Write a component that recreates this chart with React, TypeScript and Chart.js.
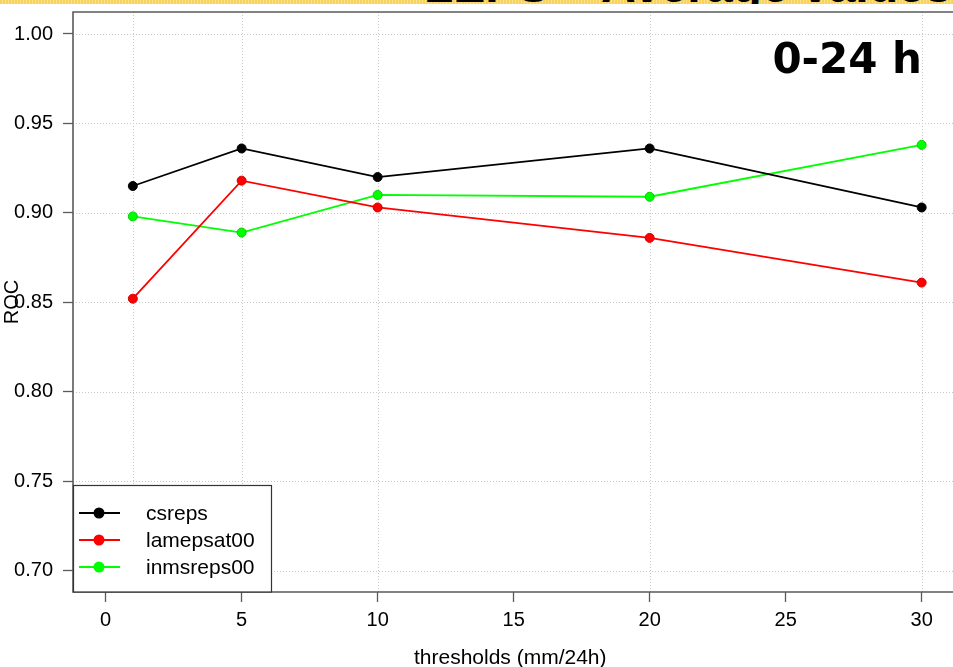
import React, { useEffect, useRef } from "react";
import { Chart, registerables } from "chart.js";

Chart.register(...registerables);

// ---- data ----
const thresholds = [1, 5, 10, 20, 30];
const csreps = [0.915, 0.936, 0.92, 0.936, 0.903];
const lamepsat00 = [0.852, 0.918, 0.903, 0.886, 0.861];
const inmsreps00 = [0.898, 0.889, 0.91, 0.909, 0.938];
const seriesNames = ["csreps", "lamepsat00", "inmsreps00"];
const xTicks = [0, 5, 10, 15, 20, 25, 30];
const yTicks = [0.7, 0.75, 0.8, 0.85, 0.9, 0.95, 1.0];
const panelLabel = "0-24 h";
const xTitle = "thresholds (mm/24h)";
const yTitle = "ROC";
const bannerText = "LEPS \u2013 Average values";

const colors = ["#000000", "#ff0000", "#00ff00"];
const borders = ["#000000", "#d00000", "#00d000"];

const FONT = "'Liberation Sans', Arial, Helvetica, sans-serif";

const boxPlugin = {
  id: "rbox",
  beforeDatasetsDraw(chart: any) {
    const { ctx, chartArea, scales } = chart;
    const { left, top, bottom } = chartArea;
    const right = chart.width;
    ctx.save();
    ctx.strokeStyle = "#c8c8c8";
    ctx.lineWidth = 1;
    ctx.setLineDash([1, 2]);
    yTicks.forEach((v) => {
      const y = Math.round(scales.y.getPixelForValue(v)) + 0.5;
      ctx.beginPath();
      ctx.moveTo(left, y);
      ctx.lineTo(right, y);
      ctx.stroke();
    });
    thresholds.forEach((v) => {
      const x = Math.round(scales.x.getPixelForValue(v)) + 0.5;
      ctx.beginPath();
      ctx.moveTo(x, top);
      ctx.lineTo(x, bottom);
      ctx.stroke();
    });
    ctx.restore();
  },
  afterDatasetsDraw(chart: any) {
    const { ctx, chartArea } = chart;
    const { left, top, bottom } = chartArea;
    const right = chart.width;
    ctx.save();
    // plot box
    ctx.strokeStyle = "#5a5a5a";
    ctx.lineWidth = 1.6;
    ctx.beginPath();
    ctx.moveTo(right + 2, top);
    ctx.lineTo(left, top);
    ctx.lineTo(left, bottom);
    ctx.lineTo(right + 2, bottom);
    ctx.stroke();

    // legend box
    const lx = left, ly = bottom - 107, lw = 198, lh = 107;
    ctx.fillStyle = "#ffffff";
    ctx.fillRect(lx, ly, lw, lh);
    ctx.strokeStyle = "#333333";
    ctx.lineWidth = 1.2;
    ctx.strokeRect(lx + 0.5, ly + 0.5, lw, lh - 0.5);
    const rowY = [28, 55, 82];
    chart.data.datasets.forEach((ds: any, i: number) => {
      const y = ly + rowY[i];
      ctx.strokeStyle = ds.borderColor;
      ctx.lineWidth = 2;
      ctx.beginPath();
      ctx.moveTo(lx + 6, y);
      ctx.lineTo(lx + 47, y);
      ctx.stroke();
      ctx.fillStyle = ds.borderColor;
      ctx.beginPath();
      ctx.arc(lx + 26, y, 5.5, 0, Math.PI * 2);
      ctx.fill();
      ctx.fillStyle = "#000000";
      ctx.font = `21px ${FONT}`;
      ctx.textAlign = "left";
      ctx.textBaseline = "middle";
      ctx.fillText(ds.label, lx + 73, y + 1);
    });

    // panel label
    ctx.fillStyle = "#000000";
    ctx.font = "bold 42px 'DejaVu Sans', sans-serif";
    ctx.textAlign = "right";
    ctx.textBaseline = "alphabetic";
    ctx.fillText(panelLabel, 922, 73);
    ctx.restore();
  },
};

export default function App() {
  const ref = useRef<HTMLCanvasElement | null>(null);
  useEffect(() => {
    if (!ref.current) return;
    const series = [csreps, lamepsat00, inmsreps00];
    const chart = new Chart(ref.current, {
      type: "line",
      data: {
        datasets: series.map((vals, i) => ({
          label: seriesNames[i],
          data: thresholds.map((x, j) => ({ x, y: vals[j] })),
          borderColor: colors[i],
          backgroundColor: colors[i],
          pointBackgroundColor: colors[i],
          pointBorderColor: borders[i],
          pointBorderWidth: 1,
          pointRadius: 4.5,
          borderWidth: 1.8,
          tension: 0,
          fill: false,
        })),
      },
      options: {
        animation: false,
        responsive: false,
        devicePixelRatio: 1,
        layout: { padding: { top: 12, left: 0, right: 0, bottom: 0 } },
        plugins: { legend: { display: false }, tooltip: { enabled: false } },
        scales: {
          x: {
            type: "linear",
            min: -1.2,
            max: 30.95,
            afterBuildTicks: (s: any) => {
              s.ticks = xTicks.map((v) => ({ value: v }));
            },
            afterFit: (s: any) => {
              s.height = 75;
              s.paddingLeft = 0;
              s.paddingRight = 0;
              s.paddingTop = 0;
              s.paddingBottom = 0;
            },
            grid: {
              drawOnChartArea: false,
              drawTicks: true,
              tickLength: 10,
              tickColor: "#5a5a5a",
              tickWidth: 1.3,
            },
            border: { display: false },
            ticks: {
              color: "#000",
              padding: 6,
              maxRotation: 0,
              font: { family: FONT, size: 20 },
              callback: (v: any) => String(v),
            },
            title: {
              display: true,
              text: xTitle,
              color: "#000",
              font: { family: FONT, size: 21 },
              padding: { top: 0, bottom: -4 },
            },
          },
          y: {
            type: "linear",
            min: 0.688,
            max: 1.0123,
            afterBuildTicks: (s: any) => {
              s.ticks = yTicks.map((v) => ({ value: v }));
            },
            afterFit: (s: any) => {
              s.width = 73;
              s.paddingLeft = 0;
              s.paddingRight = 0;
              s.paddingTop = 0;
              s.paddingBottom = 0;
            },
            grid: {
              drawOnChartArea: false,
              drawTicks: true,
              tickLength: 10,
              tickColor: "#5a5a5a",
              tickWidth: 1.3,
            },
            border: { display: false },
            ticks: {
              color: "#000",
              padding: 10,
              font: { family: FONT, size: 20 },
              callback: (v: any) => Number(v).toFixed(2),
            },
            title: {
              display: true,
              text: yTitle,
              color: "#000",
              font: { family: FONT, size: 20 },
              padding: { top: 0, bottom: 0 },
            },
          },
        },
      },
      plugins: [boxPlugin],
    } as any);
    return () => chart.destroy();
  }, []);

  return (
    <div style={{ position: "absolute", left: 0, top: 0, width: 953, height: 667, background: "#fff", overflow: "hidden" }}>
      <div
        style={{
          position: "absolute",
          left: 0,
          top: 0,
          width: 953,
          height: 4,
          overflow: "hidden",
          background: "repeating-linear-gradient(90deg, #f7d35c 0px, #f7d35c 2px, #fbe08e 2px, #fbe08e 3px)",
        }}
      >
        <span
          style={{
            position: "absolute",
            left: 424,
            top: -38,
            fontFamily: FONT,
            fontWeight: "bold",
            fontSize: 48,
            lineHeight: "48px",
            whiteSpace: "nowrap",
            color: "#000",
          }}
        >
          {bannerText}
        </span>
      </div>
      <canvas ref={ref} width={953} height={667} style={{ display: "block", width: 953, height: 667 }} />
    </div>
  );
}
